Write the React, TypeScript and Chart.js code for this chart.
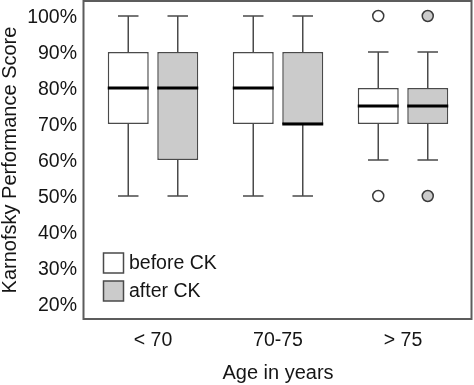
import { useEffect, useRef } from 'react';
import { Chart, registerables } from 'chart.js';

Chart.register(...registerables);

const categories = ['< 70', '70-75', '> 75'];
const yTicks = [20, 30, 40, 50, 60, 70, 80, 90, 100];

const beforeMin = [50, 50, 60];
const beforeQ1 = [70, 70, 70];
const beforeMedian = [80, 80, 75];
const beforeQ3 = [90, 90, 80];
const beforeMax = [100, 100, 90];
const beforeOutliers = [[], [], [50, 100]];

const afterMin = [50, 50, 60];
const afterQ1 = [60, 70, 70];
const afterMedian = [80, 70, 75];
const afterQ3 = [90, 90, 80];
const afterMax = [100, 100, 90];
const afterOutliers = [[], [], [50, 100]];

const FONT = '"Liberation Sans", Arial, Helvetica, sans-serif';
const TEXT = '#151515';
const STROKE = '#4a4a4a';
const AFTER_FILL = '#cbcbcb';

const boxPlugin = {
  id: 'boxExtras',
  beforeDatasetsDraw(chart: any) {
    const ctx = chart.ctx;
    const ys = chart.scales.y;
    ctx.save();
    ctx.strokeStyle = STROKE;
    ctx.lineWidth = 1.5;
    chart.data.datasets.forEach((ds: any, d: number) => {
      const meta = chart.getDatasetMeta(d);
      meta.data.forEach((bar: any, i: number) => {
        const x = bar.x;
        const capW = bar.width * 0.5;
        const segs = [
          [ds.q3[i], ds.max[i]],
          [ds.q1[i], ds.min[i]],
        ];
        segs.forEach(([a, b]) => {
          const ya = ys.getPixelForValue(a);
          const yb = ys.getPixelForValue(b);
          ctx.beginPath();
          ctx.moveTo(x, ya);
          ctx.lineTo(x, yb);
          ctx.moveTo(x - capW / 2, yb);
          ctx.lineTo(x + capW / 2, yb);
          ctx.stroke();
        });
      });
    });
    ctx.restore();
  },
  afterDatasetsDraw(chart: any) {
    const ctx = chart.ctx;
    const ys = chart.scales.y;
    const ca = chart.chartArea;
    ctx.save();
    chart.data.datasets.forEach((ds: any, d: number) => {
      const meta = chart.getDatasetMeta(d);
      meta.data.forEach((bar: any, i: number) => {
        const x = bar.x;
        const w = bar.width;
        const ym = ys.getPixelForValue(ds.median[i]);
        ctx.strokeStyle = '#000';
        ctx.lineWidth = 3;
        ctx.beginPath();
        ctx.moveTo(x - w / 2, ym);
        ctx.lineTo(x + w / 2, ym);
        ctx.stroke();
        ds.outliers[i].forEach((v: number) => {
          const yo = ys.getPixelForValue(v);
          ctx.beginPath();
          ctx.arc(x, yo, 5.5, 0, Math.PI * 2);
          ctx.fillStyle = ds.backgroundColor;
          ctx.fill();
          ctx.lineWidth = 1.5;
          ctx.strokeStyle = '#3a3a3a';
          ctx.stroke();
        });
      });
    });
    ctx.font = `19.5px ${FONT}`;
    ctx.textBaseline = 'middle';
    ctx.textAlign = 'left';
    chart.data.datasets.forEach((ds: any, d: number) => {
      const rx = ca.left + 13;
      const ry = ca.bottom - 66 + d * 28;
      ctx.fillStyle = ds.backgroundColor;
      ctx.fillRect(rx, ry, 20, 20);
      ctx.strokeStyle = STROKE;
      ctx.lineWidth = 1.5;
      ctx.strokeRect(rx, ry, 20, 20);
      ctx.fillStyle = TEXT;
      ctx.fillText(ds.label, rx + 25.5, ry + 10.5);
    });
    ctx.strokeStyle = '#5c5c5c';
    ctx.lineWidth = 2;
    ctx.strokeRect(ca.left - 7, ca.top, ca.right - ca.left + 13, ca.bottom - ca.top);
    ctx.restore();
  },
};

export default function App() {
  const ref = useRef<HTMLCanvasElement>(null);
  useEffect(() => {
    if (!ref.current) return;
    const chart = new Chart(ref.current, {
      type: 'bar',
      data: {
        labels: categories,
        datasets: [
          {
            label: 'before CK',
            data: beforeQ1.map((q, i) => [q, beforeQ3[i]]),
            backgroundColor: '#ffffff',
            borderColor: STROKE,
            borderWidth: 1.5,
            borderSkipped: false,
            min: beforeMin,
            q1: beforeQ1,
            median: beforeMedian,
            q3: beforeQ3,
            max: beforeMax,
            outliers: beforeOutliers,
          } as any,
          {
            label: 'after CK',
            data: afterQ1.map((q, i) => [q, afterQ3[i]]),
            backgroundColor: AFTER_FILL,
            borderColor: STROKE,
            borderWidth: 1.5,
            borderSkipped: false,
            min: afterMin,
            q1: afterQ1,
            median: afterMedian,
            q3: afterQ3,
            max: afterMax,
            outliers: afterOutliers,
          } as any,
        ],
      },
      options: {
        animation: false,
        responsive: false,
        events: [],
        layout: { padding: { left: 0, right: 8.5, top: 1, bottom: 0 } },
        datasets: {
          bar: { categoryPercentage: 0.792, barPercentage: 0.828 },
        },
        plugins: {
          legend: { display: false },
          tooltip: { enabled: false },
        },
        scales: {
          x: {
            grid: { display: false, drawTicks: false },
            border: { display: false },
            ticks: {
              color: TEXT,
              font: { size: 19.5, family: FONT },
              padding: 9.5,
            },
            title: {
              display: true,
              text: 'Age in years',
              color: TEXT,
              font: { size: 20, family: FONT, lineHeight: 1.2 },
              padding: { top: 0, bottom: 0 },
            },
            afterFit: (s: any) => {
              s.height = 66;
              s.paddingLeft = 0;
              s.paddingRight = 0;
            },
          },
          y: {
            min: 15.83,
            max: 104.17,
            grid: { display: false, drawTicks: false },
            border: { display: false },
            afterBuildTicks: (s: any) => {
              s.ticks = yTicks.map((v) => ({ value: v }));
            },
            ticks: {
              color: TEXT,
              font: { size: 19.5, family: FONT },
              padding: 13.5,
              labelOffset: 2,
              callback: (v: any) => `${v}%`,
            },
            title: {
              display: true,
              text: 'Karnofsky Performance Score',
              color: TEXT,
              font: { size: 20, family: FONT, lineHeight: 1 },
              padding: { top: 0, bottom: 0 },
            },
            afterFit: (s: any) => {
              s.width = 90.5;
              s.paddingTop = 0;
              s.paddingBottom = 0;
            },
          },
        },
      },
      plugins: [boxPlugin],
    });
    return () => chart.destroy();
  }, []);
  return (
    <div style={{ position: 'absolute', left: 0, top: 0, width: 474, height: 385 }}>
      <canvas ref={ref} width={474} height={385} style={{ display: 'block' }} />
    </div>
  );
}
